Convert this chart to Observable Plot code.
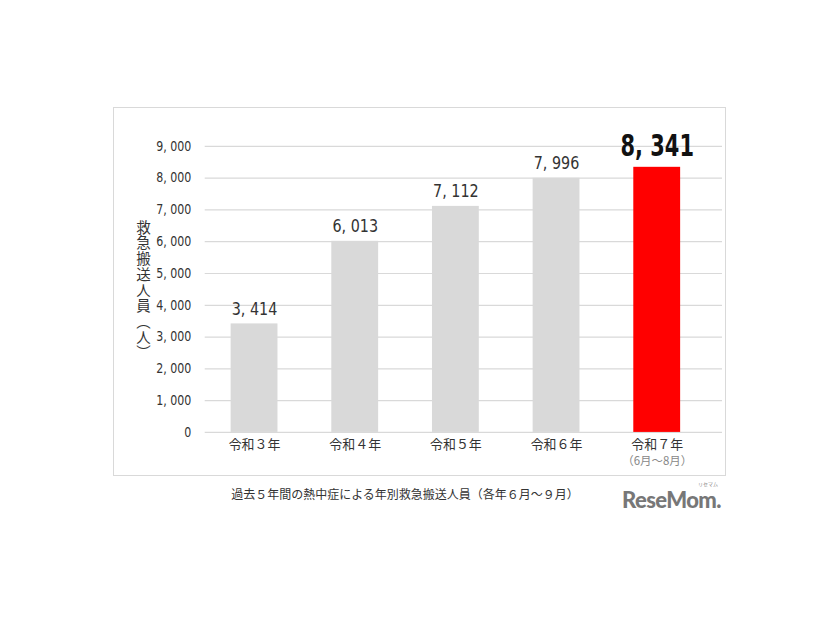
<!DOCTYPE html>
<html>
<head>
<meta charset="utf-8">
<script src="https://cdn.jsdelivr.net/npm/d3@7"></script>
<script src="https://cdn.jsdelivr.net/npm/@observablehq/plot@0.6"></script>
<style>
  html, body { margin: 0; padding: 0; background: #fff; }
  body { width: 826px; height: 620px; position: relative; font-family: "Noto Sans CJK JP", sans-serif; }
  #box { position: absolute; left: 113px; top: 107px; width: 613px; height: 369px; border: 1px solid #d9d9d9; box-sizing: border-box; }
  #box svg { position: absolute; left: -1px; top: -1px; overflow: visible; }
  #ylabel { position: absolute; left: 135px; top: 220px; writing-mode: vertical-rl; font-size: 14.5px; line-height: 16px; letter-spacing: 1.2px; color: #333; }
  #caption { position: absolute; left: 0; width: 810px; top: 485px; text-align: center; font-size: 12px; color: #333; }
  #logo { position: absolute; left: 622px; top: 489px; font-family: "Lato", sans-serif; font-weight: 900; font-size: 22px; line-height: 22px; color: #777; letter-spacing: -0.6px; }
  #logosub { position: absolute; left: 698px; top: 481px; font-size: 5px; line-height: 5px; color: #888; }
</style>
</head>
<body>
<div id="box"></div>
<div id="ylabel"></div>
<div id="caption">過去５年間の熱中症による年別救急搬送人員（各年６月～９月）</div>
<div id="logosub">リセマム</div>
<div id="logo">ReseMom.</div>
<script>
const categories = ["令和３年", "令和４年", "令和５年", "令和６年", "令和７年"];
const values = [3414, 6013, 7112, 7996, 8341];
const subLabels = ["", "", "", "", "（6月～8月）"];
const highlight = [false, false, false, false, true];
const yTicks = [0, 1000, 2000, 3000, 4000, 5000, 6000, 7000, 8000, 9000];
const yLabel = "救急搬送人員（人）";

const data = categories.map((c, i) => ({cat: c, value: values[i], sub: subLabels[i], hi: highlight[i]}));
const fmt = d => d3.format(",")(d).replace(",", ", ");
const numFont = "'DejaVu Sans', sans-serif";

const chart = Plot.plot({
  width: 613,
  height: 369,
  marginLeft: 92,
  marginRight: 2,
  marginTop: 39,
  marginBottom: 43,
  style: {fontFamily: "'Noto Sans CJK JP', sans-serif", background: "transparent", overflow: "visible"},
  x: {domain: categories, range: [90, 598], paddingInner: 0.53, paddingOuter: 0.265},
  y: {domain: [0, 9000]},
  marks: [
    Plot.ruleY(yTicks, {stroke: "#d9d9d9", strokeWidth: 1.2}),
    Plot.barY(data, {x: "cat", y: "value", fill: d => d.hi ? "#ff0000" : "#d9d9d9"}),
    Plot.axisY({ticks: yTicks, tickSize: 0, tickPadding: 14, tickFormat: fmt, fontSize: 13.5, fill: "#333", label: null, fontFamily: numFont, className: "num82"}),
    Plot.axisX({tickSize: 0, tickPadding: 7, fontSize: 13, fill: "#333", label: null}),
    Plot.text(data.filter(d => d.sub), {x: "cat", y: 0, text: "sub", dy: 29, fontSize: 11.5, fill: "#888"}),
    Plot.text(data.filter(d => !d.hi), {x: "cat", y: "value", text: d => fmt(d.value), dy: -15, fontSize: 18, fill: "#333", fontFamily: numFont, className: "num80"}),
    Plot.text(data.filter(d => d.hi), {x: "cat", y: "value", text: d => fmt(d.value), dy: -21, fontSize: 30, fontWeight: "bold", fill: "#111", fontFamily: numFont, className: "num70"})
  ]
});

// condense numeric labels horizontally
[["num82", 0.82], ["num80", 0.8], ["num70", 0.7]].forEach(([cls, s]) => {
  d3.select(chart).selectAll(`g.${cls} text`).each(function() {
    const t = this.getAttribute("transform") || "";
    this.setAttribute("transform", `${t} scale(${s},1)`);
  });
});

document.getElementById("ylabel").textContent = yLabel;
document.getElementById("box").appendChild(chart);
</script>
</body>
</html>
